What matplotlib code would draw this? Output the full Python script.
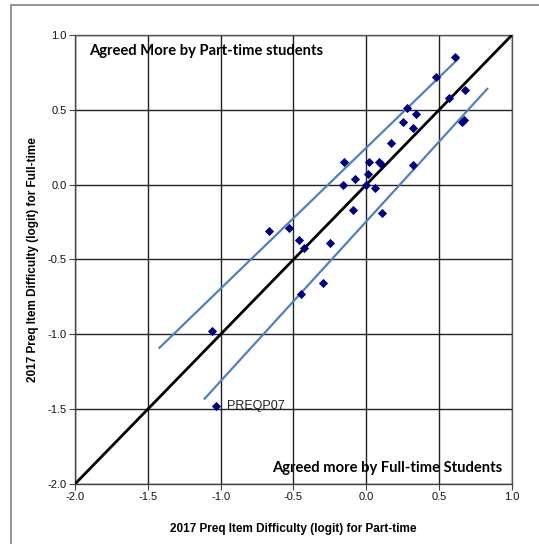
import matplotlib.pyplot as plt
import matplotlib.ticker as mtick
from matplotlib.patches import Rectangle

plt.rcParams['font.family'] = ['Liberation Sans', 'DejaVu Sans']

# item difficulties (logit): part-time (x) vs full-time (y)
part_time = [0.61, 0.48, 0.68, 0.57, 0.28, 0.34, 0.25, 0.66, 0.67, 0.32, 0.17,
             -0.15, 0.02, 0.09, 0.10, 0.32, -0.08, 0.01, -0.16, 0.00, 0.06,
             -0.09, 0.11, -0.67, -0.53, -0.46, -0.43, -0.25, -0.30, -0.45,
             -1.06, -1.03]
full_time = [0.85, 0.72, 0.63, 0.58, 0.51, 0.47, 0.42, 0.42, 0.43, 0.38, 0.28,
             0.15, 0.15, 0.15, 0.14, 0.13, 0.04, 0.07, 0.00, 0.00, -0.02,
             -0.17, -0.19, -0.31, -0.29, -0.37, -0.42, -0.39, -0.66, -0.73,
             -0.98, -1.48]

identity = [-2.0, 1.0]
upper_x = [-1.42, 0.63]
upper_y = [-1.09, 0.84]
lower_x = [-1.11, 0.83]
lower_y = [-1.43, 0.64]

outlier_label = "PREQP07"
outlier = (-1.03, -1.48)

fig = plt.figure(figsize=(5.39, 5.44), dpi=100)
ax = fig.add_axes([0.1391, 0.1103, 0.8108, 0.8254])

# figure frame
fig.patches.append(Rectangle((11 / 539, -0.05), 1.2, 1 - 5 / 544 + 0.05,
                             transform=fig.transFigure, fill=False,
                             edgecolor='#808080', linewidth=1.2))

ax.plot(identity, identity, color='black', linewidth=2, zorder=3)
ax.plot(upper_x, upper_y, color='#4f81bd', linewidth=1.6, zorder=3)
ax.plot(lower_x, lower_y, color='#4f81bd', linewidth=1.6, zorder=3)
ax.scatter(part_time, full_time, marker='D', s=22, color='#00007f',
           linewidths=0, zorder=4)

ax.annotate(outlier_label, outlier, xytext=(8, 0), textcoords='offset points',
            va='center', fontsize=9, color='#222222')

ax.set_xlim(-2, 1)
ax.set_ylim(-2, 1)
ax.xaxis.set_major_locator(mtick.MultipleLocator(0.5))
ax.yaxis.set_major_locator(mtick.MultipleLocator(0.5))
ax.xaxis.set_major_formatter(mtick.FormatStrFormatter('%.1f'))
ax.yaxis.set_major_formatter(mtick.FormatStrFormatter('%.1f'))
ax.tick_params(labelsize=8, length=4, width=0.8, colors='#444444',
               labelcolor='#111111', pad=2)
ax.grid(color='#222222', linewidth=1.0)
ax.set_axisbelow(True)
for s in ['top', 'right']:
    ax.spines[s].set_color('#555555')
    ax.spines[s].set_linewidth(1.0)
for s in ['left', 'bottom']:
    ax.spines[s].set_color('#444444')
    ax.spines[s].set_linewidth(1.0)

ax.set_xlabel("2017 Preq Item Difficulty (logit) for Part-time",
              fontsize=8.5, fontweight='bold', labelpad=15)
ax.set_ylabel("2017 Preq Item Difficulty (logit) for Full-time",
              fontsize=8.5, fontweight='bold', labelpad=6)

ax.text(-1.9, 0.89, "Agreed More by Part-time students", family='Lato',
        fontsize=10.6, fontweight='bold', va='center', ha='left')
ax.text(0.93, -1.89, "Agreed more by Full-time Students", family='Lato',
        fontsize=10.6, fontweight='bold', va='center', ha='right')

fig.savefig("out.png", dpi=100)
